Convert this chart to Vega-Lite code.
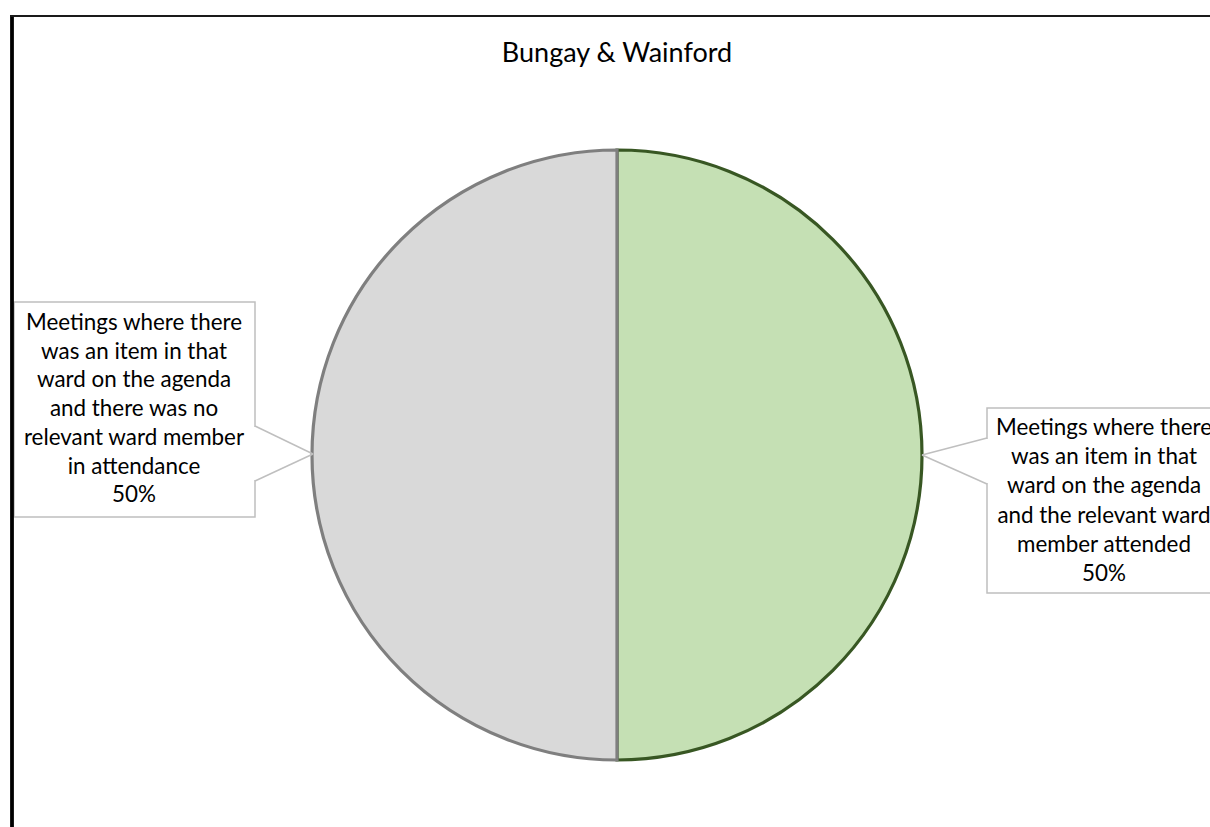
{
  "$schema": "https://vega.github.io/schema/vega-lite/v6.json",
  "width": 1210,
  "height": 827,
  "autosize": {"type": "none"},
  "padding": 0,
  "background": "white",
  "config": {"view": {"stroke": null}},
  "title": {
    "text": "Bungay & Wainford",
    "anchor": "middle",
    "frame": "group",
    "orient": "top",
    "offset": 0,
    "baseline": "alphabetic",
    "dx": 12,
    "dy": 89,
    "font": "Lato",
    "fontSize": 27,
    "fontWeight": "normal",
    "color": "#000000"
  },
  "data": {
    "values": [
      {"status": "Attended", "label": "Meetings where there\nwas an item in that\nward on the agenda\nand the relevant ward\nmember attended", "share": 0.5},
      {"status": "Not attended", "label": "Meetings where there\nwas an item in that\nward on the agenda\nand there was no\nrelevant ward member\nin attendance", "share": 0.5}
    ]
  },
  "layer": [
    {
      "mark": {"type": "arc", "outerRadius": 305, "strokeWidth": 3.2},
      "encoding": {
        "theta": {"field": "share", "type": "quantitative", "stack": true},
        "order": {"field": "status", "sort": "ascending"},
        "fill": {"field": "status", "type": "nominal", "scale": {"domain": ["Attended", "Not attended"], "range": ["#C5E0B4", "#D9D9D9"]}, "legend": null},
        "stroke": {"field": "status", "type": "nominal", "scale": {"domain": ["Attended", "Not attended"], "range": ["#385723", "#7F7F7F"]}, "legend": null},
        "x": {"datum": 617, "type": "quantitative", "scale": {"domain": [0, 1210], "nice": false, "zero": false}, "axis": null},
        "y": {"datum": 455, "type": "quantitative", "scale": {"domain": [0, 827], "nice": false, "zero": false, "reverse": true}, "axis": null}
      }
    },
    {
      "transform": [{"filter": "datum.status === 'Not attended'"}],
      "mark": {"type": "rect", "fill": "white", "stroke": "#BFBFBF", "strokeWidth": 1.5},
      "encoding": {
        "x": {"datum": 14, "type": "quantitative", "scale": {"domain": [0, 1210], "nice": false, "zero": false}, "axis": null},
        "x2": {"datum": 255},
        "y": {"datum": 302, "type": "quantitative", "scale": {"domain": [0, 827], "nice": false, "zero": false, "reverse": true}, "axis": null},
        "y2": {"datum": 517}
      }
    },
    {
      "transform": [{"filter": "datum.status === 'Not attended'"}],
      "mark": {"type": "rule", "stroke": "white", "strokeWidth": 3},
      "encoding": {
        "x": {"datum": 255, "type": "quantitative", "scale": {"domain": [0, 1210], "nice": false, "zero": false}, "axis": null},
        "y": {"datum": 427, "type": "quantitative", "scale": {"domain": [0, 827], "nice": false, "zero": false, "reverse": true}, "axis": null},
        "y2": {"datum": 480}
      }
    },
    {
      "transform": [{"filter": "datum.status === 'Not attended'"}],
      "mark": {"type": "rule", "stroke": "#BFBFBF", "strokeWidth": 1.5},
      "encoding": {
        "x": {"datum": 255, "type": "quantitative", "scale": {"domain": [0, 1210], "nice": false, "zero": false}, "axis": null},
        "x2": {"datum": 313},
        "y": {"datum": 426, "type": "quantitative", "scale": {"domain": [0, 827], "nice": false, "zero": false, "reverse": true}, "axis": null},
        "y2": {"datum": 454}
      }
    },
    {
      "transform": [{"filter": "datum.status === 'Not attended'"}],
      "mark": {"type": "rule", "stroke": "#BFBFBF", "strokeWidth": 1.5},
      "encoding": {
        "x": {"datum": 313, "type": "quantitative", "scale": {"domain": [0, 1210], "nice": false, "zero": false}, "axis": null},
        "x2": {"datum": 255},
        "y": {"datum": 454, "type": "quantitative", "scale": {"domain": [0, 827], "nice": false, "zero": false, "reverse": true}, "axis": null},
        "y2": {"datum": 481}
      }
    },
    {
      "transform": [{"filter": "datum.status === 'Attended'"}],
      "mark": {"type": "rect", "fill": "white", "stroke": "#BFBFBF", "strokeWidth": 1.5},
      "encoding": {
        "x": {"datum": 987, "type": "quantitative", "scale": {"domain": [0, 1210], "nice": false, "zero": false}, "axis": null},
        "x2": {"datum": 1225},
        "y": {"datum": 408, "type": "quantitative", "scale": {"domain": [0, 827], "nice": false, "zero": false, "reverse": true}, "axis": null},
        "y2": {"datum": 593}
      }
    },
    {
      "transform": [{"filter": "datum.status === 'Attended'"}],
      "mark": {"type": "rule", "stroke": "white", "strokeWidth": 3},
      "encoding": {
        "x": {"datum": 987, "type": "quantitative", "scale": {"domain": [0, 1210], "nice": false, "zero": false}, "axis": null},
        "y": {"datum": 439, "type": "quantitative", "scale": {"domain": [0, 827], "nice": false, "zero": false, "reverse": true}, "axis": null},
        "y2": {"datum": 483}
      }
    },
    {
      "transform": [{"filter": "datum.status === 'Attended'"}],
      "mark": {"type": "rule", "stroke": "#BFBFBF", "strokeWidth": 1.5},
      "encoding": {
        "x": {"datum": 987, "type": "quantitative", "scale": {"domain": [0, 1210], "nice": false, "zero": false}, "axis": null},
        "x2": {"datum": 922},
        "y": {"datum": 438, "type": "quantitative", "scale": {"domain": [0, 827], "nice": false, "zero": false, "reverse": true}, "axis": null},
        "y2": {"datum": 455}
      }
    },
    {
      "transform": [{"filter": "datum.status === 'Attended'"}],
      "mark": {"type": "rule", "stroke": "#BFBFBF", "strokeWidth": 1.5},
      "encoding": {
        "x": {"datum": 922, "type": "quantitative", "scale": {"domain": [0, 1210], "nice": false, "zero": false}, "axis": null},
        "x2": {"datum": 987},
        "y": {"datum": 455, "type": "quantitative", "scale": {"domain": [0, 827], "nice": false, "zero": false, "reverse": true}, "axis": null},
        "y2": {"datum": 484}
      }
    },
    {
      "transform": [{"filter": "datum.status === 'Not attended'"}],
      "mark": {"type": "text", "font": "Lato", "fontSize": 22.4, "align": "center", "baseline": "alphabetic", "lineBreak": "\n", "lineHeight": 28.7, "color": "#000000"},
      "encoding": {
        "text": {"field": "label"},
        "x": {"datum": 134, "type": "quantitative", "scale": {"domain": [0, 1210], "nice": false, "zero": false}, "axis": null},
        "y": {"datum": 330, "type": "quantitative", "scale": {"domain": [0, 827], "nice": false, "zero": false, "reverse": true}, "axis": null}
      }
    },
    {
      "transform": [{"filter": "datum.status === 'Not attended'"}],
      "mark": {"type": "text", "font": "Lato", "fontSize": 22.4, "align": "center", "baseline": "alphabetic", "color": "#000000"},
      "encoding": {
        "text": {"field": "share", "type": "quantitative", "format": ".0%"},
        "x": {"datum": 134, "type": "quantitative", "scale": {"domain": [0, 1210], "nice": false, "zero": false}, "axis": null},
        "y": {"datum": 502, "type": "quantitative", "scale": {"domain": [0, 827], "nice": false, "zero": false, "reverse": true}, "axis": null}
      }
    },
    {
      "transform": [{"filter": "datum.status === 'Attended'"}],
      "mark": {"type": "text", "font": "Lato", "fontSize": 22.4, "align": "center", "baseline": "alphabetic", "lineBreak": "\n", "lineHeight": 29.2, "color": "#000000"},
      "encoding": {
        "text": {"field": "label"},
        "x": {"datum": 1104, "type": "quantitative", "scale": {"domain": [0, 1210], "nice": false, "zero": false}, "axis": null},
        "y": {"datum": 435, "type": "quantitative", "scale": {"domain": [0, 827], "nice": false, "zero": false, "reverse": true}, "axis": null}
      }
    },
    {
      "transform": [{"filter": "datum.status === 'Attended'"}],
      "mark": {"type": "text", "font": "Lato", "fontSize": 22.4, "align": "center", "baseline": "alphabetic", "color": "#000000"},
      "encoding": {
        "text": {"field": "share", "type": "quantitative", "format": ".0%"},
        "x": {"datum": 1104, "type": "quantitative", "scale": {"domain": [0, 1210], "nice": false, "zero": false}, "axis": null},
        "y": {"datum": 581, "type": "quantitative", "scale": {"domain": [0, 827], "nice": false, "zero": false, "reverse": true}, "axis": null}
      }
    },
    {
      "transform": [{"filter": "datum.status === 'Attended'"}],
      "mark": {"type": "rule", "stroke": "#000000", "strokeWidth": 3.8},
      "encoding": {
        "x": {"datum": 12, "type": "quantitative", "scale": {"domain": [0, 1210], "nice": false, "zero": false}, "axis": null},
        "y": {"datum": 15, "type": "quantitative", "scale": {"domain": [0, 827], "nice": false, "zero": false, "reverse": true}, "axis": null},
        "y2": {"datum": 830}
      }
    },
    {
      "transform": [{"filter": "datum.status === 'Attended'"}],
      "mark": {"type": "rule", "stroke": "#1A1A1A", "strokeWidth": 2.2},
      "encoding": {
        "x": {"datum": 10, "type": "quantitative", "scale": {"domain": [0, 1210], "nice": false, "zero": false}, "axis": null},
        "x2": {"datum": 1215},
        "y": {"datum": 16, "type": "quantitative", "scale": {"domain": [0, 827], "nice": false, "zero": false, "reverse": true}, "axis": null}
      }
    }
  ]
}
